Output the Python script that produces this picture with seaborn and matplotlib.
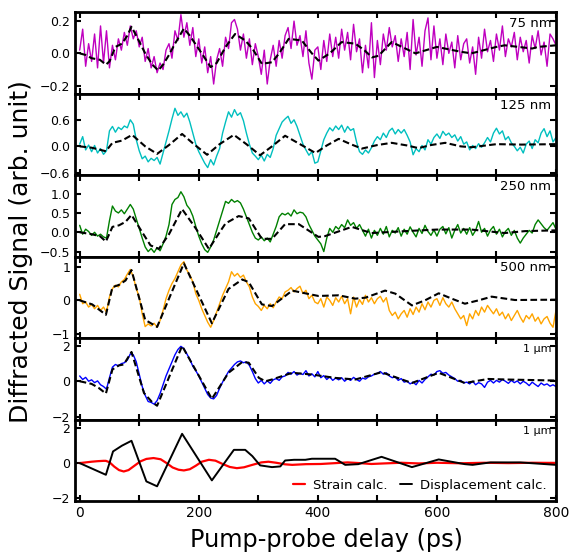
import numpy as np
import matplotlib
matplotlib.use('Agg')
import matplotlib.pyplot as plt
from matplotlib.ticker import MultipleLocator
import seaborn as sns

# pump-probe delay grid of the measured traces (ps)
delay = np.arange(0, 801, 5)

# measured signals, one value every 5 ps (rows of 50 ps)
sig_75 = [
    0.02, 0.15, -0.08, 0.06, -0.05, 0.12, -0.09, 0.17, -0.06, 0.14,
    -0.09, 0.05, -0.04, 0.09, 0.02, 0.13, 0.05, 0.17, 0.09, 0.14,
    0.04, 0.10, -0.05, 0.03, -0.09, -0.02, -0.12, -0.06, -0.10, 0.02,
    0.06, -0.03, 0.14, 0.08, 0.24, 0.10, 0.19, 0.05, 0.16, -0.02,
    0.09, -0.06, 0.04, -0.12, -0.02, -0.19, -0.04, 0.03, -0.08, 0.10,
    0.03, 0.19, 0.21, 0.15, 0.02, 0.12, -0.03, 0.09, -0.07, 0.06,
    -0.02, -0.13, 0.02, -0.19, -0.04, 0.05, -0.08, 0.08, -0.03, 0.11,
    0.16, 0.03, 0.20, 0.05, 0.11, -0.02, 0.14, -0.06, -0.16, 0.02,
    0.04, -0.10, 0.08, -0.05, 0.12, -0.02, 0.10, -0.03, 0.15, 0.02,
    0.13, -0.04, 0.18, 0.01, 0.09, -0.12, 0.05, -0.09, 0.19, -0.15,
    0.08, -0.07, 0.12, 0.02, 0.16, 0.04, 0.11, -0.05, 0.09, -0.02,
    0.13, -0.10, 0.21, -0.01, 0.10, -0.08, 0.14, 0.22, -0.04, 0.17,
    -0.03, 0.09, -0.07, 0.12, 0.00, 0.07, -0.09, 0.11, -0.04, 0.06,
    0.09, -0.06, 0.04, -0.13, 0.10, -0.03, 0.15, 0.01, 0.08, -0.05,
    0.12, 0.02, 0.17, -0.02, 0.09, 0.04, 0.13, -0.04, 0.10, 0.01,
    0.08, -0.06, 0.11, 0.03, 0.14, -0.01, 0.07, -0.08, 0.12, 0.09, 0.05]
sig_125 = [
    0.05, 0.22, -0.08, 0.03, -0.12, 0.02, -0.15, -0.05, -0.18, -0.10,
    0.35, 0.45, 0.32, 0.43, 0.38, 0.46, 0.42, 0.60, 0.50, 0.15,
    -0.10, -0.28, -0.22, -0.35, -0.27, -0.32, -0.25, -0.40, -0.15, 0.10,
    0.35, 0.62, 0.86, 0.70, 0.78, 0.66, 0.75, 0.55, 0.30, 0.05,
    -0.12, -0.25, -0.38, -0.48, -0.30, -0.42, -0.22, -0.05, 0.30, 0.55,
    0.78, 0.66, 0.83, 0.70, 0.76, 0.58, 0.30, 0.05, -0.15, -0.22,
    -0.30, -0.20, -0.33, -0.18, -0.25, -0.05, 0.25, 0.40, 0.55, 0.62,
    0.68, 0.52, 0.60, 0.45, 0.25, 0.05, -0.08, -0.20, -0.12, -0.38,
    -0.35, -0.10, 0.15, 0.30, 0.42, 0.35, 0.46, 0.38, 0.48, 0.32,
    0.45, 0.36, 0.40, 0.10, -0.12, -0.18, -0.08, -0.15, -0.03, 0.12,
    0.22, 0.15, 0.30, 0.20, 0.35, 0.41, 0.28, 0.38, 0.30, 0.38,
    0.25, 0.10, -0.19, -0.05, -0.12, 0.02, -0.08, 0.15, 0.05, 0.20,
    0.28, 0.18, 0.34, 0.25, 0.30, 0.20, 0.26, 0.12, 0.22, 0.05,
    0.10, -0.08, 0.02, -0.05, 0.06, -0.02, 0.08, 0.20, 0.10, 0.30,
    0.41, 0.28, 0.35, 0.15, 0.22, 0.08, 0.00, -0.10, -0.02, -0.15,
    0.05, 0.12, -0.05, 0.15, 0.08, 0.30, 0.40, 0.22, 0.35, 0.10, 0.20]
sig_250 = [
    0.18, -0.05, 0.08, 0.02, -0.08, 0.00, -0.10, -0.05, -0.12, -0.15,
    0.30, 0.68, 0.55, 0.50, 0.58, 0.48, 0.60, 0.72, 0.60, 0.35,
    0.10, -0.15, -0.38, -0.50, -0.42, -0.52, -0.40, -0.48, -0.30, -0.10,
    0.20, 0.72, 0.85, 0.90, 1.05, 0.92, 0.70, 0.60, 0.42, 0.15,
    -0.10, -0.30, -0.45, -0.52, -0.38, -0.20, 0.05, 0.30, 0.55, 0.80,
    0.75, 0.85, 0.78, 0.82, 0.76, 0.60, 0.40, 0.20, 0.00, -0.15,
    -0.20, -0.12, -0.22, -0.15, -0.25, -0.05, 0.15, 0.40, 0.49, 0.45,
    0.50, 0.42, 0.58, 0.48, 0.52, 0.50, 0.40, 0.20, 0.05, -0.10,
    -0.20, -0.30, -0.50, -0.15, 0.10, 0.00, 0.15, 0.08, 0.20, 0.12,
    0.32, 0.18, 0.25, 0.10, 0.20, 0.05, -0.10, 0.08, -0.15, 0.05,
    -0.08, 0.10, -0.05, 0.15, -0.12, 0.05, -0.02, 0.12, -0.10, 0.08,
    -0.05, 0.14, 0.00, -0.12, 0.10, -0.03, 0.18, 0.02, -0.08, 0.06,
    -0.10, 0.08, 0.15, -0.04, 0.12, -0.15, 0.05, 0.20, -0.02, 0.10,
    -0.05, 0.12, -0.08, 0.05, 0.28, 0.00, 0.10, -0.10, 0.06, 0.15,
    -0.05, 0.08, -0.12, 0.02, 0.10, -0.08, 0.05, -0.15, -0.28, -0.15,
    -0.05, 0.05, -0.02, 0.20, 0.32, 0.22, 0.12, 0.05, 0.15, 0.25, 0.08]
sig_500 = [
    0.18, -0.10, -0.05, -0.20, -0.12, -0.25, -0.15, -0.30, -0.20, -0.35,
    0.10, 0.35, 0.45, 0.40, 0.55, 0.62, 0.78, 0.92, 0.70, 0.35,
    0.10, -0.40, -0.78, -0.70, -0.76, -0.68, -0.80, -0.60, -0.30, 0.05,
    0.30, 0.50, 0.65, 0.85, 1.05, 1.15, 0.90, 0.75, 0.55, 0.20,
    0.00, -0.25, -0.45, -0.65, -0.80, -0.60, -0.35, -0.10, 0.15, 0.35,
    0.55, 0.85, 0.72, 0.80, 0.68, 0.75, 0.55, 0.40, 0.10, -0.10,
    -0.18, -0.30, -0.15, -0.25, -0.10, -0.22, -0.05, 0.10, 0.05, 0.25,
    0.30, 0.38, 0.25, 0.35, 0.42, 0.20, 0.30, 0.05, 0.15, -0.05,
    -0.10, 0.05, -0.20, 0.10, 0.00, -0.15, 0.08, -0.05, 0.12, -0.10,
    0.05, -0.40, 0.10, -0.20, 0.02, -0.12, 0.15, -0.05, 0.08, -0.10,
    0.05, 0.12, -0.05, 0.08, -0.30, -0.45, -0.35, -0.55, -0.40, -0.30,
    -0.50, -0.25, -0.42, -0.20, -0.35, -0.10, -0.28, -0.05, -0.20, 0.00,
    0.05, -0.15, 0.08, -0.10, -0.20, -0.05, -0.25, -0.40, -0.55, -0.45,
    -0.75, -0.40, -0.55, -0.30, -0.45, -0.20, -0.35, -0.15, -0.28, -0.40,
    -0.25, -0.45, -0.35, -0.55, -0.40, -0.60, -0.45, -0.30, -0.50, -0.65,
    -0.45, -0.55, -0.40, -0.62, -0.50, -0.70, -0.55, -0.48, -0.68, -0.80, -0.30]
sig_1um = [
    0.30, 0.10, 0.22, 0.00, 0.08, -0.08, 0.02, -0.20, -0.30, -0.45,
    0.20, 0.80, 0.95, 0.88, 1.00, 1.05, 1.20, 1.55, 1.50, 1.10,
    0.40, -0.30, -0.80, -1.15, -1.20, -1.30, -1.10, -0.70, -0.20, 0.30,
    0.70, 1.10, 1.50, 1.80, 1.98, 1.85, 1.55, 1.25, 0.85, 0.60,
    0.30, -0.05, -0.40, -0.75, -0.95, -1.00, -0.80, -0.40, -0.05, 0.25,
    0.55, 0.75, 0.95, 1.10, 1.15, 1.05, 1.10, 0.90, 0.55, 0.15,
    -0.10, 0.05, -0.15, 0.02, -0.12, 0.08, 0.15, 0.05, 0.25, 0.30,
    0.50, 0.40, 0.55, 0.35, 0.45, 0.38, 0.60, 0.30, 0.42, 0.25,
    0.55, 0.20, 0.32, 0.10, 0.25, 0.05, 0.18, 0.08, 0.20, 0.00,
    0.15, 0.05, 0.22, 0.10, 0.00, 0.18, 0.12, 0.25, 0.30, 0.40,
    0.45, 0.55, 0.40, 0.48, 0.30, 0.20, 0.25, 0.05, 0.15, -0.05,
    0.00, -0.15, -0.05, -0.20, 0.05, -0.10, 0.10, 0.25, 0.40, 0.35,
    0.55, 0.60, 0.45, 0.50, 0.35, 0.25, 0.15, 0.00, 0.05, -0.10,
    -0.05, -0.15, 0.00, -0.20, -0.08, -0.15, -0.35, -0.05, 0.05, -0.10,
    0.05, -0.05, 0.10, 0.00, -0.12, 0.05, -0.08, 0.02, -0.15, 0.00,
    -0.10, -0.25, -0.05, -0.18, -0.30, -0.10, -0.22, -0.15, -0.28, -0.20, -0.30]

# fitted curves (dashed), read at their turning points
fit_75_t = [0, 10, 20, 34, 44, 50, 60, 71, 80, 87, 95, 110, 122, 132, 140, 150, 160, 175,
            185, 194, 205, 220, 230, 245, 261, 278, 290, 306, 323, 335, 351, 373, 390, 401,
            420, 440, 463, 478, 491, 502, 524, 547, 564, 600, 640, 658, 700, 714, 760, 770, 800]
fit_75 = [0.0, -0.01, -0.03, -0.04, -0.07, -0.05, 0.04, 0.06, 0.11, 0.165, 0.11, 0.0, -0.07,
          -0.106, -0.07, -0.01, 0.06, 0.154, 0.11, 0.06, 0.0, -0.085, -0.06, 0.04, 0.12, 0.08,
          0.03, -0.065, -0.055, 0.0, 0.09, 0.08, 0.0, -0.045, 0.0, 0.07, 0.06, 0.02, -0.025,
          -0.015, 0.07, 0.03, 0.0, 0.04, 0.01, 0.0, 0.04, 0.05, 0.03, 0.04, 0.05]
fit_125_t = [0, 20, 44, 55, 71, 88, 110, 130, 150, 172, 190, 214, 235, 259, 280, 303, 323, 345,
             370, 396, 415, 435, 455, 474, 500, 524, 550, 569, 590, 614, 640, 658, 700, 742, 800]
fit_125 = [0.0, -0.03, -0.11, 0.08, 0.13, 0.26, 0.0, -0.17, 0.03, 0.28, 0.07, -0.19, 0.05, 0.26,
           0.05, -0.2, 0.0, 0.24, 0.05, -0.15, 0.02, 0.17, 0.05, -0.05, 0.03, 0.08, 0.02, -0.04,
           0.03, 0.08, 0.0, -0.02, 0.05, 0.04, 0.05]
fit_250_t = [0, 20, 34, 44, 55, 66, 77, 87, 105, 119, 133, 150, 172, 195, 217, 235, 245, 267,
             284, 306, 323, 345, 368, 401, 412, 457, 490, 547, 600, 658, 714, 748, 800]
fit_250 = [0.0, -0.05, -0.1, -0.24, 0.14, 0.18, 0.27, 0.45, 0.0, -0.34, -0.43, -0.05, 0.6, 0.1,
           -0.43, 0.0, 0.23, 0.42, 0.36, -0.17, -0.17, 0.21, 0.21, -0.12, -0.1, 0.14, -0.02,
           0.03, 0.07, 0.07, -0.02, 0.03, 0.05]
fit_500_t = [0, 21, 44, 55, 66, 77, 87, 110, 130, 175, 222, 250, 273, 284, 306, 323, 357, 373,
             401, 435, 463, 480, 513, 530, 558, 580, 603, 625, 647, 670, 692, 731, 800]
fit_500 = [0.0, -0.12, -0.43, 0.39, 0.46, 0.59, 0.9, -0.58, -0.79, 1.1, -0.68, 0.34, 0.62, 0.54,
           -0.12, -0.17, 0.29, 0.23, 0.13, 0.15, 0.05, 0.08, 0.29, 0.2, -0.15, 0.0, 0.21, 0.05,
           -0.1, 0.0, 0.11, 0.01, 0.02]
fit_1um_t = [0, 20, 32, 44, 55, 66, 74, 87, 108, 122, 130, 172, 222, 250, 273, 284, 301, 312,
             323, 357, 390, 429, 463, 507, 558, 603, 647, 686, 714, 800]
fit_1um = [0.0, -0.15, -0.38, -0.7, 0.67, 0.9, 0.95, 1.66, -0.67, -1.2, -1.39, 2.0, -1.0, 0.48,
           1.09, 1.05, 0.19, 0.0, 0.1, 0.48, 0.38, 0.19, 0.1, 0.51, -0.1, 0.48, -0.1, 0.13, 0.1,
           0.04]

# calculations for the 1 um film
strain_t = [0, 10, 20, 30, 40, 44, 50, 58, 66, 74, 82, 92, 102, 112, 124, 136, 146, 156, 166,
            175, 185, 195, 205, 217, 228, 240, 252, 264, 276, 290, 305, 317, 330, 345, 357, 380,
            405, 430, 450, 470, 490, 510, 540, 570, 600, 640, 680, 720, 760, 800]
strain = [0.0, 0.04, 0.08, 0.11, 0.13, 0.13, 0.05, -0.2, -0.4, -0.48, -0.4, -0.15, 0.1, 0.24,
          0.29, 0.22, 0.0, -0.25, -0.38, -0.42, -0.35, -0.15, 0.08, 0.19, 0.14, -0.05, -0.22,
          -0.29, -0.24, -0.1, 0.04, 0.08, 0.02, -0.07, -0.1, -0.06, -0.05, 0.0, 0.04, 0.0,
          -0.05, -0.02, 0.02, -0.02, 0.02, -0.01, 0.02, 0.0, 0.02, 0.01]
disp_t = [0, 44, 56, 71, 87, 112, 130, 172, 222, 259, 278, 290, 303, 323, 337, 345, 360, 379,
          390, 429, 446, 468, 507, 558, 603, 647, 660, 690, 740, 800]
disp = [0.0, -0.67, 0.67, 1.0, 1.28, -1.05, -1.33, 1.68, -0.99, 0.76, 0.76, 0.4, -0.13, -0.23,
        -0.19, 0.15, 0.19, 0.19, 0.25, 0.25, -0.1, -0.06, 0.36, -0.23, 0.21, -0.06, -0.1, 0.04,
        0.04, -0.1]

labels = ['75 nm', '125 nm', '250 nm', '500 nm', '1 \u03bcm', '1 \u03bcm']
colors = [(0.75, 0, 0.75), (0, 0.75, 0.75), (0, 0.5, 0), 'orange', 'blue']
signals = [sig_75, sig_125, sig_250, sig_500, sig_1um]
fits = [(fit_75_t, fit_75), (fit_125_t, fit_125), (fit_250_t, fit_250),
        (fit_500_t, fit_500), (fit_1um_t, fit_1um)]
ylims = [(-0.25, 0.255), (-0.65, 1.19), (-0.63, 1.48), (-1.12, 1.3), (-2.17, 2.45), (-2.17, 2.5)]
yticks = [[-0.2, 0.0, 0.2], [-0.6, 0.0, 0.6], [-0.5, 0.0, 0.5, 1.0],
          [-1, 0, 1], [-2, 0, 2], [-2, 0, 2]]

sns.set_style('ticks')
plt.rcParams['font.family'] = ['DejaVu Sans']
plt.rcParams.update({'axes.edgecolor': 'black', 'xtick.color': 'black',
                     'ytick.color': 'black', 'text.color': 'black',
                     'axes.labelcolor': 'black'})

fig, axs = plt.subplots(6, 1, figsize=(5.72, 5.56), dpi=100, sharex=True)
fig.subplots_adjust(left=0.131, right=0.972, top=0.978, bottom=0.099, hspace=0)

dash = (0, (3.2, 1.6))
for i in range(5):
    ax = axs[i]
    sns.lineplot(x=delay, y=signals[i], ax=ax, color=colors[i], lw=1.0, legend=False)
    sns.lineplot(x=fits[i][0], y=fits[i][1], ax=ax, color='black', lw=1.5,
                 linestyle=dash, legend=False)

ax = axs[5]
sns.lineplot(x=strain_t, y=strain, ax=ax, color='red', lw=1.6, label='Strain calc.')
sns.lineplot(x=disp_t, y=disp, ax=ax, color='black', lw=1.4, label='Displacement calc.')
ax.legend(loc='lower right', ncol=2, frameon=False, handlelength=0.9, fontsize=9.5,
          columnspacing=1.0, handletextpad=0.6, borderaxespad=0.3)

for i, ax in enumerate(axs):
    ax.set_xlim(-8, 800)
    ax.set_ylim(*ylims[i])
    ax.set_yticks(yticks[i])
    ax.xaxis.set_major_locator(MultipleLocator(200))
    ax.xaxis.set_minor_locator(MultipleLocator(100))
    ax.tick_params(which='both', direction='in', top=True, right=True, length=4, width=1.5)
    ax.tick_params(axis='y', labelsize=9)
    ax.tick_params(axis='x', labelsize=10)
    for sp in ax.spines.values():
        sp.set_linewidth(2)
        sp.set_color('black')
    ax.set_ylabel('')
    fs = 8 if i >= 4 else 9.5
    ax.text(0.99, 0.86, labels[i], transform=ax.transAxes, ha='right', va='center', fontsize=fs)

fig.text(0.036, 0.547, 'Diffracted Signal (arb. unit)', rotation=90, fontsize=18,
         ha='center', va='center')
fig.text(0.57, 0.029, 'Pump-probe delay (ps)', fontsize=17.3, ha='center', va='center')

fig.savefig('out.png', dpi=100)
